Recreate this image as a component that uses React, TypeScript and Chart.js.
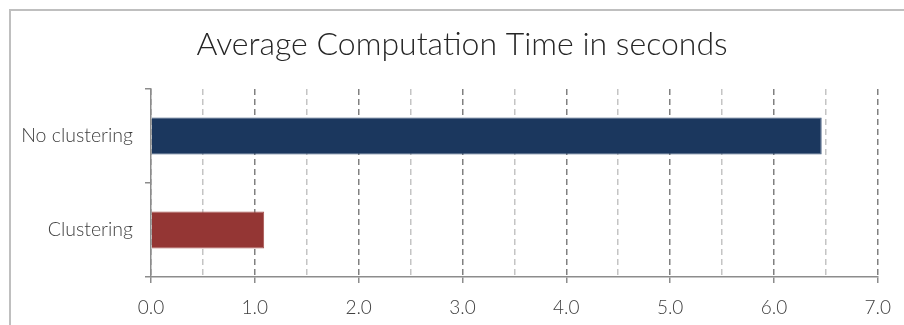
import { useEffect, useRef } from "react";
import { Chart, registerables } from "chart.js";
Chart.register(...registerables);

const categories = ["No clustering", "Clustering"];
const values = [6.46, 1.09];
const barColors = ["#1B375E", "#943634"];
const barBorders = ["#3A5478", "#A85452"];
const titleText = "Average Computation Time in seconds";
const xMin = 0;
const xMax = 7;
const xStep = 0.5;

const FONT = "Lato, 'Open Sans', sans-serif";

export default function App() {
  const ref = useRef<HTMLCanvasElement>(null);
  useEffect(() => {
    const frame = {
      id: "frame",
      beforeDraw(chart: any) {
        const c = chart.ctx;
        c.save();
        c.strokeStyle = "#BFBFBF";
        c.lineWidth = 2;
        c.strokeRect(10, 10, 1000, 1000);
        c.restore();
      },
      afterLayout(chart: any) {
        const t = chart.titleBlock;
        if (t) {
          t.left = 45;
          t.right = 879;
        }
      },
    };
    const chart = new Chart(ref.current as HTMLCanvasElement, {
      type: "bar",
      data: {
        labels: categories,
        datasets: [
          {
            data: values,
            backgroundColor: barColors,
            borderColor: barBorders,
            borderWidth: 1,
            categoryPercentage: 1,
            barPercentage: 0.394,
          },
        ],
      },
      plugins: [frame],
      options: {
        indexAxis: "y",
        animation: false,
        responsive: true,
        maintainAspectRatio: false,
        layout: { padding: { left: 0, right: 25, top: 25.5, bottom: 0 } },
        plugins: {
          legend: { display: false },
          tooltip: { enabled: false },
          title: {
            display: true,
            text: titleText,
            color: "#262626",
            font: { family: FONT, size: 32, weight: "300" as any, lineHeight: 1.2 },
            padding: { top: 0, bottom: 25.1 },
          },
        },
        scales: {
          x: {
            min: xMin,
            max: xMax,
            afterFit(scale: any) {
              scale.height = 48;
            },
            ticks: {
              stepSize: xStep,
              autoSkip: false,
              maxRotation: 0,
              padding: 13,
              color: "#404040",
              font: { family: FONT, size: 19, weight: "300" as any },
              callback: (v: any) => (Number.isInteger(Number(v)) ? Number(v).toFixed(1) : ""),
            },
            grid: {
              drawOnChartArea: true,
              drawTicks: true,
              tickLength: 6,
              lineWidth: 1.5,
              color: (ctx: any) =>
                ctx.tick && Number.isInteger(ctx.tick.value) ? "#808080" : "#C4C4C4",
              tickColor: (ctx: any) =>
                ctx.tick && Number.isInteger(ctx.tick.value) ? "#8C8C8C" : "rgba(0,0,0,0)",
              tickBorderDash: [],
            } as any,
            border: { display: true, color: "#8C8C8C", width: 1.5, dash: [6, 4] },
          },
          y: {
            afterFit(scale: any) {
              scale.width = 151;
            },
            ticks: {
              padding: 12,
              color: "#404040",
              font: { family: FONT, size: 19.5, weight: "300" as any },
            },
            grid: {
              offset: true,
              drawOnChartArea: false,
              drawTicks: true,
              tickLength: 6,
              color: "#8C8C8C",
              lineWidth: 1.5,
            },
            border: { display: true, color: "#8C8C8C", width: 1.5 },
          },
        },
      } as any,
    });
    return () => chart.destroy();
  }, []);
  return (
    <div style={{ position: "fixed", left: 0, top: 0, width: 904, height: 325, background: "#fff" }}>
      <canvas ref={ref} />
    </div>
  );
}
